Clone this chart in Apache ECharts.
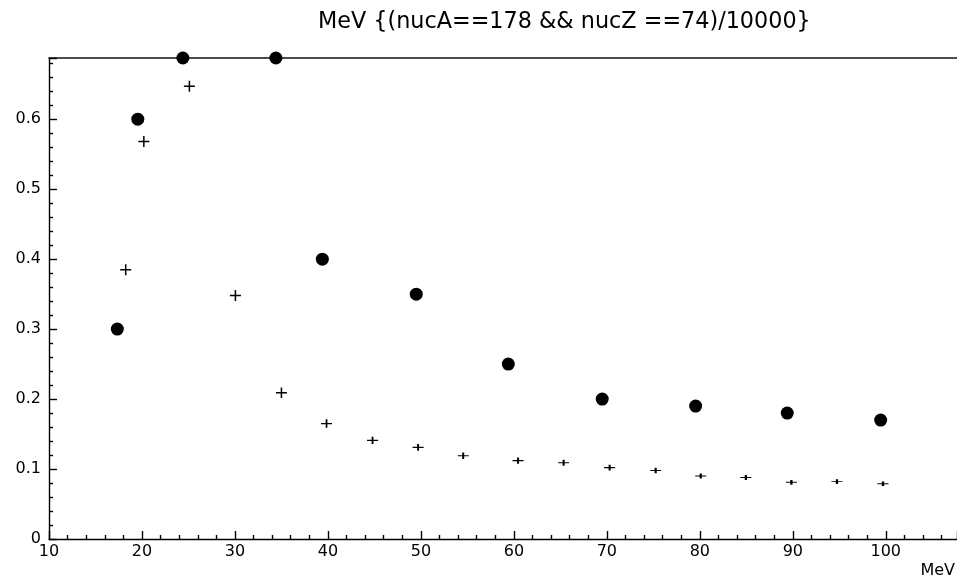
<!DOCTYPE html>
<html>
<head>
<meta charset="utf-8">
<title>MeV</title>
<script src="https://cdn.jsdelivr.net/npm/echarts@6/dist/echarts.min.js"></script>
<style>
html, body { margin: 0; padding: 0; background: #fff; }
#main { width: 957px; height: 582px; }
</style>
</head>
<body>
<div id="main"></div>
<script>
// dots (first series)
var dotX = [17.35, 19.55, 24.4, 34.4, 39.4, 49.5, 59.4, 69.5, 79.55, 89.4, 99.45];
var dotY = [0.3, 0.6, 0.6875, 0.6875, 0.4, 0.35, 0.25, 0.2, 0.19, 0.18, 0.17];

// crosses (second series)
var crossX = [18.25, 20.2, 25.1, 30.05, 35.0, 39.85, 44.8, 49.7, 54.55, 60.45,
		65.35, 70.3, 75.25, 80.1, 84.95, 89.85, 94.75, 99.7];
var crossY = [0.385, 0.568, 0.647, 0.348, 0.209, 0.165, 0.141, 0.131, 0.119, 0.112,
		0.109, 0.102, 0.098, 0.090, 0.088, 0.081, 0.082, 0.079];

var xTicks = [10, 20, 30, 40, 50, 60, 70, 80, 90, 100];
var yTicks = [0, 0.1, 0.2, 0.3, 0.4, 0.5, 0.6];

var titleText = 'MeV {(nucA==178 && nucZ ==74)/10000}';
var xName = 'MeV';

function pairs(xs, ys) {
	var out = [];
	for (var i = 0; i < xs.length; i++) {
		out.push([ xs[i], ys[i] ]);
	}
	return out;
}

var font = 'DejaVu Sans';
var chart = echarts.init(document.getElementById('main'), null, {
	renderer : 'canvas'
});

var lineStyle = {
	color : '#000',
	width : 1.4
};

chart.setOption({
	animation : false,
	backgroundColor : '#fff',
	textStyle : {
		fontFamily : font
	},
	title : {
		text : titleText,
		left : 313,
		top : 6,
		textStyle : {
			fontFamily : font,
			fontSize : 22.3,
			fontWeight : 'normal',
			color : '#000'
		}
	},
	graphic : [ {
		type : 'text',
		right : 2,
		top : 563,
		style : {
			text : xName,
			fontFamily : font,
			fontSize : 16,
			fill : '#000'
		}
	} ],
	grid : {
		left : 49,
		top : 58,
		right : 0,
		bottom : 43
	},
	xAxis : [ {
		type : 'value',
		min : 10,
		max : 107.66,
		interval : 10,
		splitLine : {
			show : false
		},
		axisLine : {
			onZero : false,
			lineStyle : lineStyle
		},
		axisTick : {
			inside : true,
			length : 8,
			lineStyle : lineStyle
		},
		minorTick : {
			show : true,
			splitNumber : 5,
			length : 4,
			lineStyle : lineStyle
		},
		axisLabel : {
			showMaxLabel : false,
			margin : 5,
			fontSize : 16,
			color : '#000',
			formatter : function(v) {
				return xTicks.indexOf(v) >= 0 ? String(v) : '';
			}
		}
	}, {
		type : 'value',
		position : 'top',
		min : 10,
		max : 107.66,
		splitLine : {
			show : false
		},
		axisLine : {
			show : true,
			onZero : false,
			lineStyle : {
				color : '#111',
				width : 1.6
			}
		},
		axisTick : {
			show : false
		},
		axisLabel : {
			show : false
		}
	} ],
	yAxis : {
		type : 'value',
		min : 0,
		max : 0.6875,
		interval : 0.1,
		splitLine : {
			show : false
		},
		axisLine : {
			show : true,
			lineStyle : lineStyle
		},
		axisTick : {
			inside : true,
			length : 8,
			lineStyle : lineStyle
		},
		minorTick : {
			show : true,
			splitNumber : 5,
			length : 4,
			lineStyle : lineStyle
		},
		axisLabel : {
			showMaxLabel : false,
			margin : 8,
			fontSize : 16,
			color : '#000',
			formatter : function(v) {
				for (var i = 0; i < yTicks.length; i++) {
					if (Math.abs(yTicks[i] - v) < 1e-9) {
						return String(yTicks[i]);
					}
				}
				return '';
			}
		}
	},
	series : [ {
		name : 'dots',
		type : 'scatter',
		clip : false,
		symbol : 'circle',
		symbolSize : 13,
		itemStyle : {
			color : '#000',
			opacity : 1
		},
		data : pairs(dotX, dotY)
	}, {
		name : 'crosses',
		type : 'scatter',
		clip : false,
		symbol : 'path://M5,0 L5,10 M0,5 L10,5',
		symbolSize : function(v) {
			return [ 11, Math.max(4, Math.min(11, v[1] * 45 + 1)) ];
		},
		itemStyle : {
			color : 'rgba(0,0,0,0)',
			borderColor : '#000',
			borderWidth : 1.5,
			opacity : 1
		},
		data : pairs(crossX, crossY)
	} ]
});
</script>
</body>
</html>
